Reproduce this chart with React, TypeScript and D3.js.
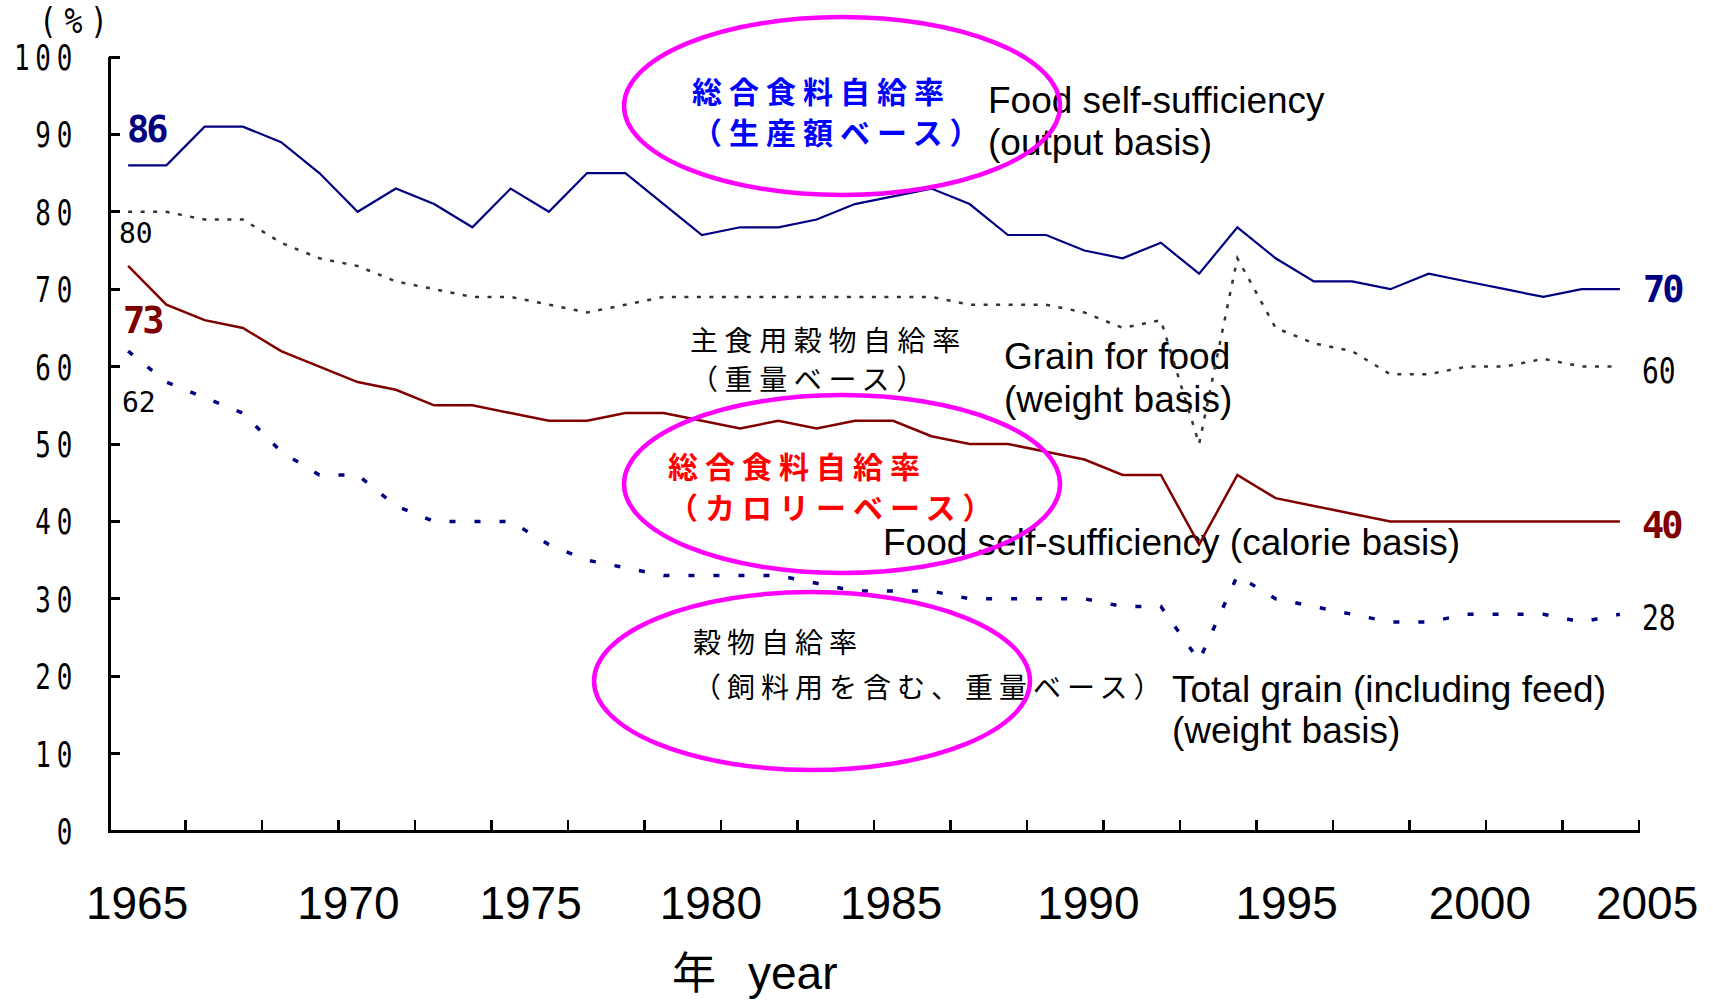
import * as d3 from 'd3';

// 1965 .. 2004
const years = [
  1965, 1966, 1967, 1968, 1969, 1970, 1971, 1972, 1973, 1974,
  1975, 1976, 1977, 1978, 1979, 1980, 1981, 1982, 1983, 1984,
  1985, 1986, 1987, 1988, 1989, 1990, 1991, 1992, 1993, 1994,
  1995, 1996, 1997, 1998, 1999, 2000, 2001, 2002, 2003, 2004,
];

// 総合食料自給率（生産額ベース）
const outputBasis = [
  86, 86, 91, 91, 89, 85, 80, 83, 81, 78,
  83, 80, 85, 85, 81, 77, 78, 78, 79, 81,
  82, 83, 81, 77, 77, 75, 74, 76, 72, 78,
  74, 71, 71, 70, 72, 71, 70, 69, 70, 70,
];

// 総合食料自給率（カロリーベース）
const calorieBasis = [
  73, 68, 66, 65, 62, 60, 58, 57, 55, 55,
  54, 53, 53, 54, 54, 53, 52, 53, 52, 53,
  53, 51, 50, 50, 49, 48, 46, 46, 37, 46,
  43, 42, 41, 40, 40, 40, 40, 40, 40, 40,
];

// 主食用穀物自給率（重量ベース）
const grainForFood = [
  80, 80, 79, 79, 76, 74, 73, 71, 70, 69,
  69, 68, 67, 68, 69, 69, 69, 69, 69, 69,
  69, 69, 68, 68, 68, 67, 65, 66, 50, 74,
  65, 63, 62, 59, 59, 60, 60, 61, 60, 60,
];

// 穀物自給率（飼料用を含む、重量ベース）
const totalGrain = [
  62, 58, 56, 54, 49, 46, 46, 42, 40, 40,
  40, 37, 35, 34, 33, 33, 33, 33, 32, 31,
  31, 31, 30, 30, 30, 30, 29, 29, 22, 33,
  30, 29, 28, 27, 27, 28, 28, 28, 27, 28,
];

const yearLabels = [1965, 1970, 1975, 1980, 1985, 1990, 1995, 2000, 2005];
// the year labels were placed by hand in the original, a bit off their years
const yearLabelNudge = [9, 29, 20, 9, -2, 4, 11, 13, -11];

const NAVY = '#000080';
const MAROON = '#800000';
const MAGENTA = '#ff00ff';
const JP = '"Noto Sans CJK JP", sans-serif';
const EN = '"Liberation Sans", Arial, sans-serif';
const MONO = '"DejaVu Sans Mono", monospace';

export default function App() {
  const width = 1713;
  const height = 1006;

  const x = d3.scaleLinear().domain([1964.5, 2004.5]).range([109, 1639]);
  const y = d3.scaleLinear().domain([0, 100]).range([831, 57]);

  const line = d3
    .line<number>()
    .x((_, i) => x(years[i]))
    .y((d) => y(d));

  const xTicks = d3.range(1966.5, 2005, 2);
  const yTicks = y.ticks(10);

  return (
    <svg
      width={width}
      height={height}
      style={{ position: 'absolute', left: 0, top: 0, background: '#fff' }}
    >
      {/* y unit */}
      <text
        transform="translate(39,33) scale(0.85,1)"
        fontFamily={MONO}
        fontSize={35}
        letterSpacing={9}
      >
        (%)
      </text>

      {/* y tick labels, narrow like the original bitmap font */}
      {yTicks.map((t) => (
        <text
          key={t}
          transform={`translate(78,${y(t) + 13}) scale(0.72,1)`}
          textAnchor="end"
          fontFamily={MONO}
          fontSize={36}
          letterSpacing={8}
        >
          {t}
        </text>
      ))}

      {/* x labels */}
      {yearLabels.map((yr, i) => (
        <text
          key={yr}
          x={x(yr) + yearLabelNudge[i]}
          y={919}
          textAnchor="middle"
          fontFamily={EN}
          fontSize={46}
        >
          {yr}
        </text>
      ))}
      <text x={672} y={989} fontFamily={JP} fontSize={44}>
        年
      </text>
      <text x={748} y={989} fontFamily={EN} fontSize={46}>
        year
      </text>

      {/* Japanese annotations */}
      <g fontFamily={JP}>
        <g fill="#0000ff" fontWeight="bold" fontSize={30} letterSpacing={7}>
          <text x={692} y={103}>総合食料自給率</text>
          <text x={692} y={144}>（生産額ベース）</text>
        </g>
        <g fill="#000" fontSize={28} letterSpacing={6.6}>
          <text x={690} y={351}>主食用穀物自給率</text>
          <text x={690} y={390}>（重量ベース）</text>
        </g>
        <g fill="#ff0000" fontWeight="bold" fontSize={30} letterSpacing={7}>
          <text x={668} y={478}>総合食料自給率</text>
          <text x={668} y={519}>（カロリーベース）</text>
        </g>
        <g fill="#000" fontSize={28} letterSpacing={6}>
          <text x={693} y={653}>穀物自給率</text>
          <text x={693} y={698}>（飼料用を含む、重量ベース）</text>
        </g>
      </g>

      {/* English annotations */}
      <g fontFamily={EN} fontSize={37} fill="#000">
        <text x={988} y={113}>Food self-sufficiency</text>
        <text x={988} y={155}>(output basis)</text>
        <text x={1004} y={369}>Grain for food</text>
        <text x={1004} y={412}>(weight basis)</text>
        <text x={883} y={555}>Food self-sufficiency (calorie basis)</text>
        <text x={1172} y={702}>Total grain (including feed)</text>
        <text x={1172} y={743}>(weight basis)</text>
      </g>

      {/* series */}
      <path d={line(grainForFood) ?? ''} fill="none" stroke="#333" strokeWidth={2.5} strokeDasharray="4 8.5" />
      <path d={line(totalGrain) ?? ''} fill="none" stroke={NAVY} strokeWidth={3.5} strokeDasharray="6 19" />
      <path d={line(calorieBasis) ?? ''} fill="none" stroke={MAROON} strokeWidth={2.5} />
      <path d={line(outputBasis) ?? ''} fill="none" stroke={NAVY} strokeWidth={2.2} />

      {/* value labels at both ends */}
      <g fontFamily={MONO} fontWeight="bold" fontSize={37} letterSpacing={-3}>
        <text x={127} y={142} fill={NAVY}>86</text>
        <text x={123} y={333} fill={MAROON}>73</text>
        <text x={1643} y={302} fill={NAVY}>70</text>
        <text x={1642} y={538} fill={MAROON}>40</text>
      </g>
      <g fontFamily={MONO} fill="#000">
        <text x={119} y={243} fontSize={28}>80</text>
        <text x={122} y={412} fontSize={28}>62</text>
        <text transform="translate(1642,383) scale(0.8,1)" fontSize={35}>60</text>
        <text transform="translate(1642,630) scale(0.8,1)" fontSize={35}>28</text>
      </g>

      {/* circled notes */}
      <g fill="none" stroke={MAGENTA} strokeWidth={4.5}>
        <ellipse cx={842} cy={106} rx={218} ry={89} />
        <ellipse cx={842} cy={484} rx={218} ry={89} />
        <ellipse cx={812} cy={681} rx={218} ry={89} />
      </g>

      {/* axes */}
      <g stroke="#000" shapeRendering="crispEdges">
        <line x1={x(1964.5)} x2={x(1964.5)} y1={y(100)} y2={y(0) + 1.5} strokeWidth={3} />
        {yTicks
          .filter((t) => t > 0)
          .map((t) => (
            <line key={t} x1={x(1964.5)} x2={x(1964.5) + 11} y1={y(t)} y2={y(t)} strokeWidth={3} />
          ))}
        <line x1={x(1964.5) - 1.5} x2={x(2004.5) + 1} y1={y(0)} y2={y(0)} strokeWidth={3} />
        {xTicks.map((t) => (
          <line key={t} x1={x(t)} x2={x(t)} y1={y(0)} y2={y(0) - 11} strokeWidth={2.5} />
        ))}
      </g>
    </svg>
  );
}
